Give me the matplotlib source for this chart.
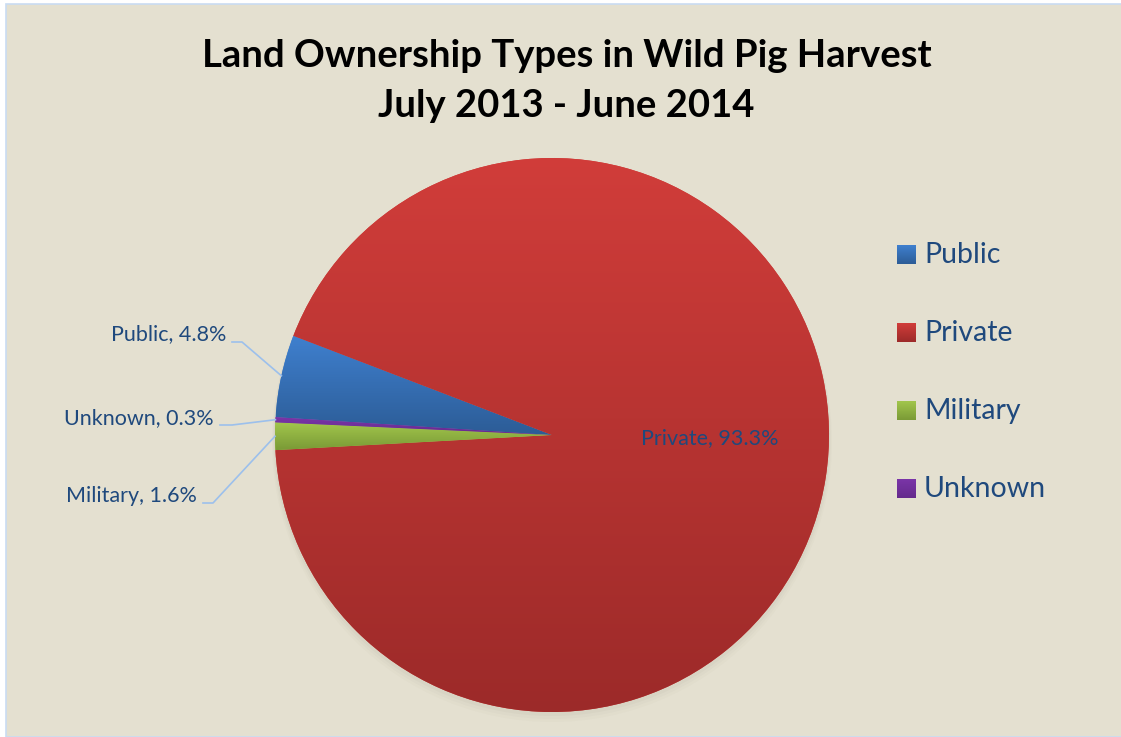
# pie chart of land ownership types in wild pig harvest
import numpy as np
import matplotlib.pyplot as plt
from matplotlib.patches import Rectangle
from matplotlib.colors import LinearSegmentedColormap

labels = ["Public", "Private", "Military", "Unknown"]
shares = [4.8, 93.3, 1.6, 0.3]
top_colors = ["#3f80cf", "#d13d3a", "#a2c64c", "#7a35a8"]
bottom_colors = ["#2c5c96", "#9c2a29", "#7a9a36", "#652a8c"]
label_pos = {"Public": (226, 334), "Unknown": (214, 418), "Military": (197, 496)}
bend_pos = {"Public": (242, 342), "Unknown": (232, 425), "Military": (213, 503)}

W, H = 1121, 737
bg = "#e4e0d0"
txt = "#1f497d"
lead = "#9cc0ec"

fig = plt.figure(figsize=(W / 100, H / 100), dpi=100)
fig.patch.set_facecolor("white")
ax = fig.add_axes([0, 0, 1, 1])

cx, cy, r = 552, H - 435, 277
start = 176.3

wedges, _ = ax.pie(shares, startangle=start, counterclock=False, center=(cx, cy), radius=r,
                   colors=top_colors, wedgeprops=dict(lw=0), frame=True)
ax.set_xlim(0, W)
ax.set_ylim(0, H)
ax.set_aspect("equal")
ax.axis("off")

# chart area with thin blue frame
ax.add_patch(Rectangle((6, 0), W, H - 4, facecolor=bg, edgecolor="#c9dcf2", lw=1.2, zorder=0))

# soft shadow
for k, a in enumerate([0.05, 0.04, 0.03]):
    sh = plt.Circle((cx, cy - 3 - k * 2), r + 1 + k, color="#8a8570", alpha=a, zorder=1, lw=0)
    ax.add_patch(sh)

def grad_fill(patch, c0, c1, x0, x1, y0, y1):
    cmap = LinearSegmentedColormap.from_list("g", [c1, c0])
    grad = np.linspace(0, 1, 256).reshape(-1, 1)
    im = ax.imshow(grad, cmap=cmap, extent=(x0, x1, y0, y1), origin="lower",
                   aspect="auto", zorder=3, interpolation="bicubic")
    im.set_clip_path(patch)

for w, c0, c1 in zip(wedges, top_colors, bottom_colors):
    w.set_zorder(2)
    pts = w.get_patch_transform().transform(w.get_path().vertices)
    grad_fill(w, c0, c1, pts[:, 0].min(), pts[:, 0].max(), pts[:, 1].min(), pts[:, 1].max())

# data labels with leader lines
ang = start
for name, s in zip(labels, shares):
    sweep = s / 100 * 360
    mid = np.deg2rad(ang - sweep / 2)
    ang -= sweep
    text = f"{name}, {s:.1f}%"
    if name == "Private":
        ax.text(641, H - 438, text, color=txt, fontsize=15.5, family="Lato",
                ha="left", va="center", zorder=5)
        continue
    ex, ey = cx + r * np.cos(mid), cy + r * np.sin(mid)
    bx, by = bend_pos[name]
    lx, ly = label_pos[name]
    ax.plot([lx + 6, bx, ex], [H - by, H - by, ey], color=lead, lw=1.2, zorder=4)
    ax.text(lx, H - ly, text, color=txt, fontsize=15.5, family="Lato",
            ha="right", va="center", zorder=5)

# legend
for i, (name, c0, c1) in enumerate(zip(labels, top_colors, bottom_colors)):
    yy = H - (255 + i * 78)
    sq = Rectangle((897, yy - 9), 19, 19, facecolor=c0, edgecolor="none", zorder=2)
    ax.add_patch(sq)
    grad_fill(sq, c0, c1, 897, 916, yy - 9, yy + 10)
    ax.text(924, yy, name, color=txt, fontsize=20.5, family="Lato", ha="left", va="center", zorder=5)

ax.text(567, H - 56, "Land Ownership Types in Wild Pig Harvest", ha="center", va="center",
        fontsize=27.5, fontweight="bold", family="Lato", color="black")
ax.text(566, H - 106, "July 2013 - June 2014", ha="center", va="center",
        fontsize=27.5, fontweight="bold", family="Lato", color="black")

fig.savefig("out.png", dpi=100, facecolor=fig.get_facecolor())
